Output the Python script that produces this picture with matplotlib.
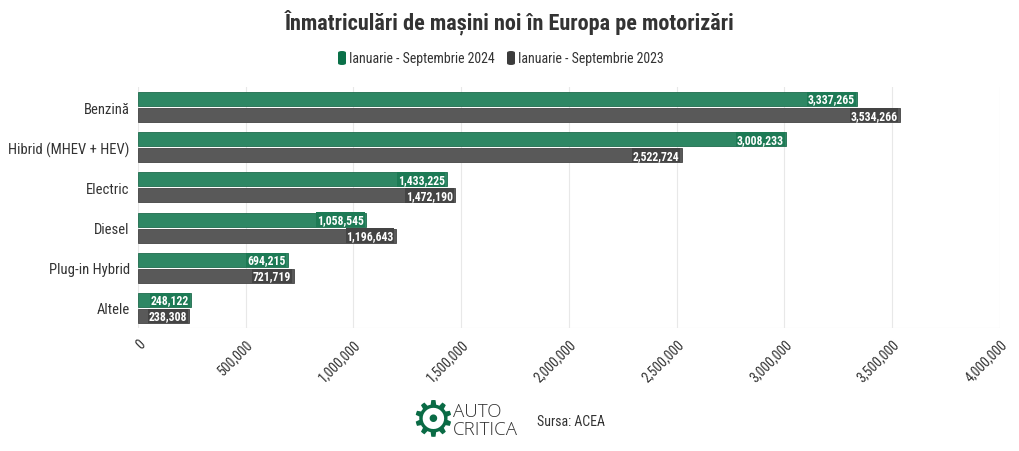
import numpy as np
import matplotlib.pyplot as plt
from matplotlib import font_manager
from matplotlib.ticker import FuncFormatter
from matplotlib.patches import FancyBboxPatch

categorii = ["Benzină", "Hibrid (MHEV + HEV)", "Electric", "Diesel", "Plug-in Hybrid", "Altele"]
v2024 = [3337265, 3008233, 1433225, 1058545, 694215, 248122]
v2023 = [3534266, 2522724, 1472190, 1196643, 721719, 238308]
serii = ["Ianuarie - Septembrie 2024", "Ianuarie - Septembrie 2023"]

names = {f.name for f in font_manager.fontManager.ttflist}
fam = "Roboto Condensed" if "Roboto Condensed" in names else (
    "Liberation Sans Narrow" if "Liberation Sans Narrow" in names else "Roboto")
plt.rcParams['font.family'] = [fam, 'DejaVu Sans']

verde, gri = "#2e8764", "#595959"
verde_leg, gri_leg = "#0a7048", "#3c3c3c"
txt = "#333333"

fig = plt.figure(figsize=(10.2, 4.52), dpi=100)
ax = fig.add_axes([138/1020, 1-329/452, 862/1020, 241/452])

y = np.arange(len(categorii))
h = 0.35
ax.barh(y - 0.2, v2024, height=h, color=verde, edgecolor="#1f6b4d", linewidth=0.6, zorder=3)
ax.barh(y + 0.2, v2023, height=h, color=gri, edgecolor="#444444", linewidth=0.6, zorder=3)

for yi, v in zip(y, v2024):
    ax.text(v - 10000, yi - 0.2, f"{v:,}", ha="right", va="center", color="white",
            fontsize=8.5, fontweight="bold", zorder=4,
            bbox=dict(boxstyle="square,pad=0.06", fc="#1d7a55", ec="none"))
for yi, v in zip(y, v2023):
    ax.text(v - 10000, yi + 0.2, f"{v:,}", ha="right", va="center", color="white",
            fontsize=8.5, fontweight="bold", zorder=4,
            bbox=dict(boxstyle="square,pad=0.06", fc="#444444", ec="none"))

ax.set_xlim(0, 4000000)
ax.set_ylim(5.5, -0.5)
ax.set_yticks(y)
ax.set_yticklabels(categorii, fontsize=10.5, color=txt)
ax.set_xticks(np.arange(0, 4000001, 500000))
ax.xaxis.set_major_formatter(FuncFormatter(lambda v, p: f"{int(v):,}"))
for lab in ax.get_xticklabels():
    lab.set_rotation(45)
    lab.set_ha("right")
    lab.set_rotation_mode("anchor")
    lab.set_fontsize(10)
    lab.set_color(txt)
ax.tick_params(axis="both", length=0, pad=6)
ax.grid(axis="x", color="#e8e8e8", linewidth=0.8, zorder=0)
ax.axhline(5.5, color="#e8e8e8", linewidth=0.8)
for s in ax.spines.values():
    s.set_visible(False)

fig.text(0.5, 1-22/452, "Înmatriculări de mașini noi în Europa pe motorizări", ha="center",
         va="center", fontsize=16, fontweight="bold", color=txt)

# legenda
lx = [338, 507]
for x0, c, s in zip(lx, [verde_leg, gri_leg], serii):
    fig.patches.append(FancyBboxPatch((x0/1020, 1-66/452), 8/1020, 14/452,
                                      boxstyle="round,pad=0,rounding_size=0.004",
                                      transform=fig.transFigure, fc=c, ec="none"))
    fig.text((x0 + 11)/1020, 1-59/452, s, ha="left", va="center", fontsize=10, color=txt)

# logo + sursa
fig.text(433/1020, 1-421/452, "⚙", ha="center", va="center", fontsize=36,
         color="#0a6b45", family="DejaVu Sans")
fig.text(453/1020, 1-412/452, "AUTO", ha="left", va="center", fontsize=13.5,
         color=txt, family="Open Sans", fontweight="light")
fig.text(453/1020, 1-430/452, "CRITICA", ha="left", va="center", fontsize=13.5,
         color=txt, family="Open Sans", fontweight="light")
fig.text(537/1020, 1-422/452, "Sursa: ACEA", ha="left", va="center", fontsize=10, color=txt)

fig.savefig("out.png", dpi=100, facecolor="white")
